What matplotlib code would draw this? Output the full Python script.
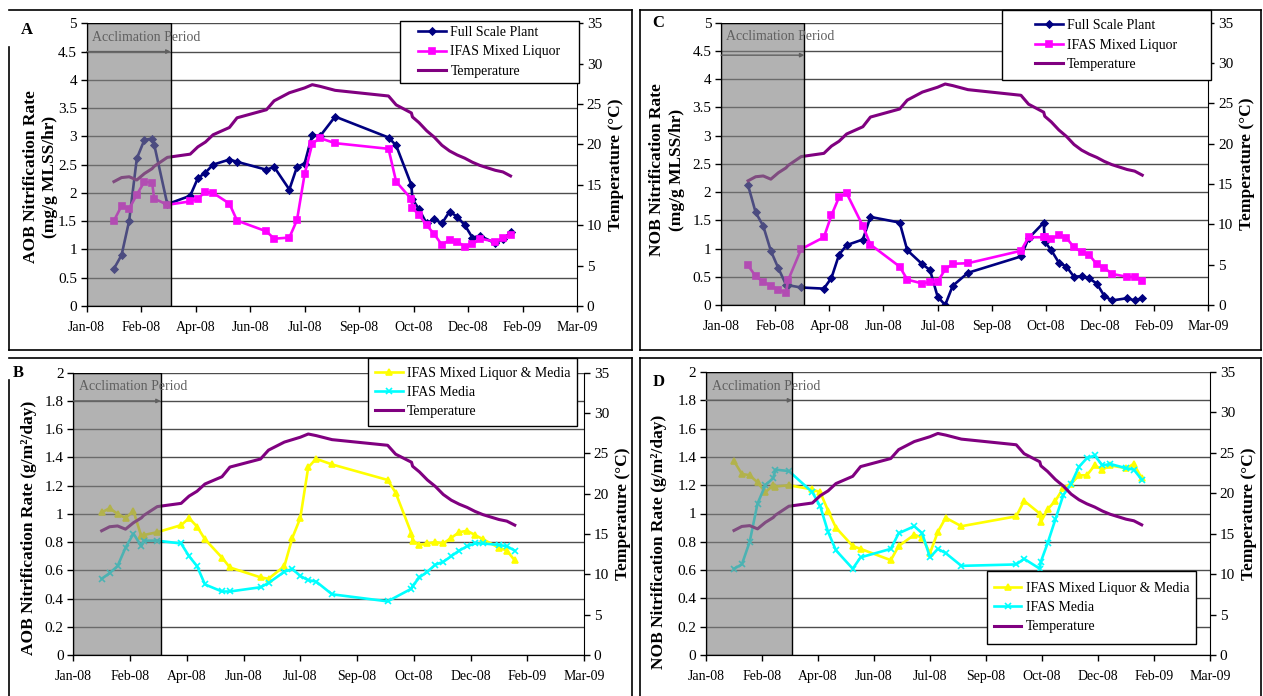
import numpy as np
import pandas as pd
import matplotlib
matplotlib.use('Agg')
import matplotlib.pyplot as plt
import matplotlib.dates as mdates
from matplotlib.lines import Line2D
from matplotlib.patches import Rectangle
from matplotlib.ticker import FuncFormatter

plt.rcParams['font.family'] = 'Liberation Serif'

W, H = 1263, 696

# weekly sampling dates shared by every series
sample_dates = pd.to_datetime([
    '2008-01-28', '2008-02-04', '2008-02-11', '2008-02-18', '2008-02-25',
    '2008-03-03', '2008-03-05', '2008-03-17', '2008-04-07', '2008-04-14',
    '2008-04-21', '2008-04-28', '2008-05-13', '2008-05-20', '2008-06-16',
    '2008-06-23', '2008-07-07', '2008-07-14', '2008-07-21', '2008-07-28',
    '2008-08-04', '2008-08-18', '2008-10-06', '2008-10-13', '2008-10-27',
    '2008-10-28', '2008-11-03', '2008-11-10', '2008-11-17', '2008-11-24',
    '2008-12-01', '2008-12-08', '2008-12-15', '2008-12-22', '2008-12-29',
    '2009-01-12', '2009-01-19', '2009-01-26'])

temperature = [15.4, 15.9, 16.0, 15.6, 16.4, 17.0, 17.3, 18.4, 18.8, 19.7,
               20.3, 21.2, 22.1, 23.3, 24.3, 25.4, 26.4, 26.7, 27.0, 27.4,
               27.2, 26.7, 26.0, 24.9, 23.9, 23.4, 22.7, 21.7, 20.9, 19.9,
               19.2, 18.7, 18.3, 17.8, 17.4, 16.8, 16.6, 16.1]

# AOB rates, mg/g MLSS/hr
aob_plant = [0.66, 0.90, 1.51, 2.61, 2.94, 2.96, 2.85, 1.80, 1.95, 2.26,
             2.36, 2.50, 2.59, 2.55, 2.41, 2.46, 2.06, 2.46, 2.52, 3.03,
             3.00, 3.35, 2.98, 2.84, 2.14, 1.89, 1.71, 1.46, 1.54, 1.46,
             1.67, 1.58, 1.43, 1.21, 1.24, 1.11, 1.18, 1.30]
aob_liquor = [1.51, 1.77, 1.72, 1.97, 2.20, 2.18, 1.90, 1.79, 1.85, 1.90,
              2.02, 2.00, 1.81, 1.51, 1.32, 1.19, 1.21, 1.52, 2.33, 2.87,
              2.97, 2.88, 2.78, 2.20, 1.89, 1.73, 1.61, 1.43, 1.27, 1.08,
              1.17, 1.14, 1.05, 1.09, 1.19, 1.14, 1.20, 1.26]

# NOB rates, mg/g MLSS/hr
nob_plant = [2.12, 1.64, 1.40, 0.96, 0.65, 0.36, 0.35, 0.31, 0.29, 0.48,
             0.89, 1.06, 1.16, 1.56, 1.46, 0.97, 0.72, 0.62, 0.15, 0.00,
             0.34, 0.57, 0.86, 1.18, 1.46, 1.12, 0.97, 0.75, 0.68, 0.50,
             0.51, 0.47, 0.38, 0.16, 0.08, 0.12, 0.08, 0.12]
nob_liquor = [0.70, 0.51, 0.41, 0.34, 0.27, 0.22, 0.44, 0.99, 1.20, 1.59,
              1.91, 1.98, 1.40, 1.07, 0.68, 0.45, 0.38, 0.41, 0.41, 0.63,
              0.73, 0.74, 0.96, 1.20, 1.20, 1.21, 1.17, 1.24, 1.19, 1.02,
              0.94, 0.89, 0.72, 0.66, 0.55, 0.50, 0.50, 0.43]

# AOB rates, g/m2/day
aob_liquor_media = [1.01, 1.04, 1.00, 0.97, 1.02, 0.84, 0.85, 0.87, 0.92, 0.97,
                    0.91, 0.82, 0.69, 0.62, 0.55, 0.54, 0.63, 0.83, 0.97, 1.33,
                    1.39, 1.35, 1.24, 1.15, 0.86, 0.81, 0.78, 0.79, 0.80, 0.79,
                    0.83, 0.87, 0.88, 0.85, 0.82, 0.76, 0.74, 0.67]
aob_media = [0.54, 0.58, 0.63, 0.76, 0.86, 0.77, 0.81, 0.81, 0.79, 0.70,
             0.63, 0.50, 0.45, 0.45, 0.48, 0.51, 0.59, 0.61, 0.56, 0.53,
             0.52, 0.43, 0.38, np.nan, 0.47, 0.49, 0.55, 0.59, 0.64, 0.66,
             0.70, 0.74, 0.77, 0.79, 0.79, 0.78, 0.77, 0.74]

# NOB rates, g/m2/day
nob_liquor_media = [1.37, 1.28, 1.27, 1.22, 1.15, 1.20, 1.19, 1.20, 1.17, 1.15,
                    1.02, 0.90, 0.77, 0.75, 0.67, 0.77, 0.85, 0.83, 0.72, 0.87,
                    0.97, 0.91, 0.98, 1.09, 1.00, 0.94, 1.03, 1.09, 1.18, 1.21,
                    1.27, 1.27, 1.34, 1.31, 1.34, 1.32, 1.35, 1.25]
nob_media = [0.61, 0.64, 0.80, 1.07, 1.20, 1.25, 1.31, 1.30, 1.15, 1.05,
             0.87, 0.74, 0.61, 0.69, 0.75, 0.86, 0.91, 0.86, 0.69, 0.75,
             0.72, 0.63, 0.64, 0.68, 0.61, 0.66, 0.79, 0.96, 1.13, 1.21,
             1.33, 1.39, 1.41, 1.34, 1.35, 1.32, 1.31, 1.24]

axis_start = pd.Timestamp('2008-01-03')
axis_ticks = pd.date_range(axis_start, periods=10, freq='50D')
acclimation_end = pd.Timestamp('2008-03-20')

NAVY, MAGENTA, PURPLE = '#000080', '#FF00FF', '#800080'
YELLOW, CYAN = '#FFFF00', '#00FFFF'

fig = plt.figure(figsize=(W / 100, H / 100), dpi=100)


def px_axes(left, top, right, bottom):
    return fig.add_axes([left / W, 1 - bottom / H, (right - left) / W, (bottom - top) / H])


def fig_line(x0, y0, x1, y1):
    fig.add_artist(Line2D([x0 / W, x1 / W], [1 - y0 / H, 1 - y1 / H],
                          transform=fig.transFigure, color='black', lw=1.2))


def border(l, t, r, b, left_from):
    fig_line(l, t, r, t)
    fig_line(r, t, r, b)
    fig_line(l, b, r, b)
    fig_line(l, left_from, l, b)


def panel(box, ymax, ystep, ylabel, label_xy, series, legend_box, letter, letter_xy,
          arrow_frac):
    ax = px_axes(*box)
    ax.set_xlim(axis_start, axis_ticks[-1])
    ax.set_ylim(0, ymax)
    ax.set_yticks(np.arange(0, ymax + ystep / 2, ystep))
    ax.yaxis.set_major_formatter(FuncFormatter(lambda v, p: f'{v:g}'))
    ax.set_xticks(axis_ticks)
    ax.xaxis.set_major_formatter(mdates.DateFormatter('%b-%y'))
    ax.yaxis.grid(True, color='0.3', lw=1)
    ax.set_axisbelow(True)
    for side in ('top', 'right'):
        ax.spines[side].set_visible(False)
    ax.tick_params(direction='out', length=4, width=1, pad=3)
    ax.tick_params(axis='y', labelsize=11)
    ax.tick_params(axis='x', labelsize=10, pad=7)
    ax.set_ylabel(ylabel, fontsize=12.5, fontweight='bold', linespacing=1.3)
    ax.yaxis.set_label_coords(*label_xy)

    handles = []
    for values, color, marker, ms, label in series:
        v = np.array(values, dtype=float)
        keep = ~np.isnan(v)
        ln, = ax.plot(sample_dates[keep], v[keep], color=color, lw=1.9,
                      marker=marker, ms=ms, mew=1.2, label=label)
        handles.append(ln)

    ax2 = ax.twinx()
    ax2.set_ylim(0, 35)
    ax2.set_yticks(range(0, 36, 5))
    ax2.tick_params(direction='out', length=4, width=1, labelsize=11, pad=3)
    ax2.spines['top'].set_visible(False)
    ax2.set_ylabel('Temperature (°C)', fontsize=12.5, fontweight='bold', labelpad=4)
    tl, = ax2.plot(sample_dates, temperature, color=PURPLE, lw=2.2, label='Temperature')
    handles.append(tl)

    # acclimation window shaded over all lines
    ax2.axvspan(axis_start, acclimation_end, facecolor=(0.5, 0.5, 0.5, 0.6),
                edgecolor='black', lw=1, zorder=5)
    ax2.annotate('', xy=(acclimation_end, arrow_frac), xytext=(axis_start, arrow_frac),
                 xycoords=('data', 'axes fraction'), textcoords=('data', 'axes fraction'),
                 arrowprops=dict(arrowstyle='-|>', color='#606060', lw=1,
                                 mutation_scale=6, shrinkA=0, shrinkB=0), zorder=6)
    ax2.text(axis_start + pd.Timedelta(days=5), 0.95, 'Acclimation Period',
             transform=ax2.get_xaxis_transform(), color='#606060', fontsize=10,
             va='center', ha='left', zorder=6)

    # legend frame at a fixed size, entries centred inside it
    l, t, r, b = legend_box
    fig.add_artist(Rectangle((l / W, 1 - b / H), (r - l) / W, (b - t) / H,
                             transform=fig.transFigure, facecolor='white',
                             edgecolor='black', lw=1, zorder=4))
    fig.legend(handles, [h.get_label() for h in handles], loc='center',
               bbox_to_anchor=((l + r) / 2 / W, 1 - (t + b) / 2 / H),
               fontsize=10, frameon=False, numpoints=1, handlelength=2.0,
               handletextpad=0.3, borderpad=0, labelspacing=0.45, borderaxespad=0)
    fig.text(letter_xy[0] / W, 1 - letter_xy[1] / H, letter, fontsize=12,
             fontweight='bold', ha='center', va='center')
    return ax


border(9, 10, 632, 350, 47)
border(9, 358, 632, 700, 380)
border(640, 10, 1261, 350, 10)
border(640, 358, 1261, 700, 358)

panel((86.7, 23.3, 577, 306), 5, 0.5,
      'AOB Nitrification Rate\n(mg/g MLSS/hr)', (-0.058, 0.457),
      [(aob_plant, NAVY, 'D', 3.5, 'Full Scale Plant'),
       (aob_liquor, MAGENTA, 's', 4.5, 'IFAS Mixed Liquor')],
      (400, 21, 579, 83), 'A', (26.7, 30), 0.9)

panel((73.3, 372.7, 584, 655), 2, 0.2,
      'AOB Nitrification Rate (g/m²/day)', (-0.071, 0.45),
      [(aob_liquor_media, YELLOW, '^', 4.5, 'IFAS Mixed Liquor & Media'),
       (aob_media, CYAN, 'x', 4, 'IFAS Media')],
      (368.3, 358.5, 577.3, 426), 'B', (18.3, 372.7), 0.9)

panel((721, 22.7, 1208.3, 305), 5, 0.5,
      'NOB Nitrification Rate\n(mg/g MLSS/hr)', (-0.074, 0.478),
      [(nob_plant, NAVY, 'D', 3.5, 'Full Scale Plant'),
       (nob_liquor, MAGENTA, 's', 4.5, 'IFAS Mixed Liquor')],
      (1001.7, 10, 1210.7, 80), 'C', (658.3, 23.3), 0.885)

panel((706, 372, 1210, 655), 2, 0.2,
      'NOB Nitrification Rate (g/m²/day)', (-0.077, 0.40),
      [(nob_liquor_media, YELLOW, '^', 4.5, 'IFAS Mixed Liquor & Media'),
       (nob_media, CYAN, 'x', 4, 'IFAS Media')],
      (986.7, 571, 1196, 644.3), 'D', (658.3, 381.7), 0.9)

fig.savefig('out.png', dpi=100)
